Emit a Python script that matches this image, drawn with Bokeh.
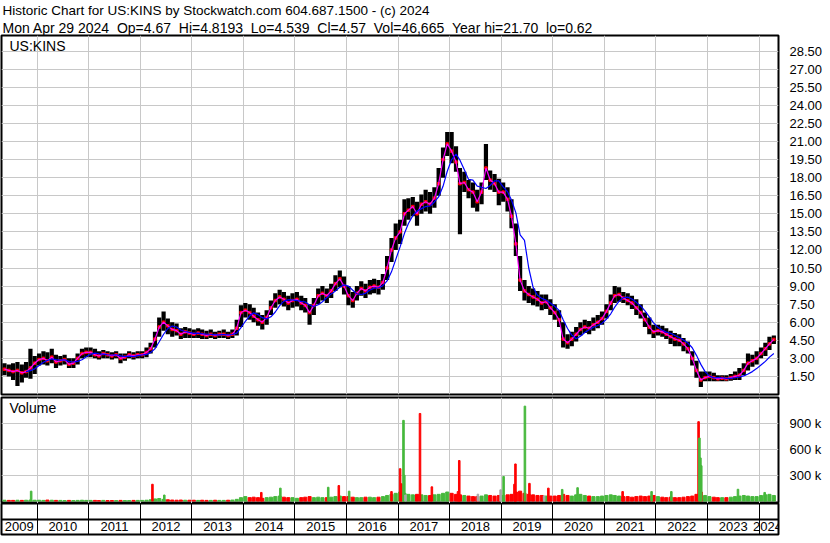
import numpy as np
import pandas as pd
from bokeh.plotting import figure
from bokeh.layouts import column
from bokeh.models import Range1d, FixedTicker, NumeralTickFormatter, Title, Label
from bokeh.embed import file_html
from bokeh.resources import INLINE

# ---------------- data (monthly) ----------------
first_month = "2009-05-01"
last_month = "2024-04-01"
last_day = "2024-04-29"
chart_start = "2009-04-24"
chart_end = "2024-05-18"

close = [2.1, 2.0, 1.9, 2.0, 1.8, 1.9, 2.2, 2.6,
         2.9, 3.0, 2.8, 3.1, 2.7, 2.8, 2.9, 2.5, 2.6, 3.0, 3.4, 3.5,
         3.5, 3.3, 3.2, 3.4, 3.3, 3.2, 3.3, 3.0, 3.1, 3.3, 3.2, 3.3,
         3.3, 3.5, 3.8, 4.6, 5.6, 6.0, 5.7, 5.4, 5.3, 5.0, 5.2, 5.1,
         5.0, 5.1, 5.0, 4.9, 5.0, 4.9, 5.0, 5.0, 4.9, 5.0, 5.5, 6.8,
         7.0, 6.8, 6.5, 6.2, 6.0, 6.4, 7.2, 7.8, 8.1, 7.9, 7.6, 7.8,
         7.9, 7.6, 7.4, 6.8, 7.4, 8.2, 8.4, 8.2, 8.6, 9.2, 9.6, 9.0,
         8.2, 7.8, 8.4, 8.8, 8.6, 8.9, 9.0, 8.9, 9.3, 10.5, 12.0, 13.0,
         13.5, 15.0, 15.3, 15.6, 15.0, 15.8, 16.0, 15.8, 16.3, 17.5, 19.5, 20.8,
         20.2, 19.3, 17.5, 17.6, 17.0, 16.8, 16.0, 16.8, 18.8, 17.8, 17.5, 16.8,
         16.8, 16.2, 14.8, 12.5, 9.5, 8.6, 8.3, 8.1, 7.9, 7.6, 7.7, 7.2,
         6.8, 6.2, 4.6, 4.3, 4.6, 5.0, 5.4, 5.6, 5.5, 5.8, 6.0, 6.3,
         6.9, 7.6, 8.2, 8.3, 8.0, 7.8, 7.6, 7.2, 6.8, 6.2, 5.6, 5.2,
         5.3, 5.2, 5.0, 4.8, 4.6, 4.5, 4.2, 3.8, 3.0, 2.0, 1.2, 1.4,
         1.5, 1.4, 1.3, 1.35, 1.3, 1.4, 1.5, 1.6, 2.0, 2.6, 2.8, 3.0,
         3.4, 3.8, 4.2, 4.57]

high = [2.6, 2.5, 2.6, 2.7, 2.5, 2.7, 3.8, 3.2,
        3.4, 3.6, 3.5, 3.8, 3.3, 3.2, 3.3, 3.0, 3.0, 3.4, 3.8, 3.9,
        3.9, 3.8, 3.6, 3.7, 3.6, 3.5, 3.6, 3.4, 3.4, 3.6, 3.5, 3.6,
        3.6, 3.9, 4.3, 5.2, 6.4, 6.9, 6.3, 6.0, 5.9, 5.5, 5.6, 5.5,
        5.4, 5.5, 5.4, 5.3, 5.4, 5.2, 5.3, 5.4, 5.2, 5.4, 6.2, 7.4,
        7.6, 7.5, 7.2, 6.8, 6.6, 7.0, 7.8, 8.4, 8.7, 8.5, 8.2, 8.4,
        8.5, 8.2, 8.0, 7.5, 8.0, 8.8, 9.0, 8.8, 9.2, 9.9, 10.3, 9.8,
        9.0, 8.5, 9.0, 9.4, 9.2, 9.5, 9.6, 9.5, 10.0, 11.5, 13.0, 14.2,
        14.5, 16.2, 16.3, 16.4, 16.0, 16.6, 17.0, 16.8, 17.2, 18.8, 20.5, 21.8,
        21.8, 20.6, 18.8, 18.5, 17.8, 17.6, 17.0, 17.6, 20.8, 18.6, 18.3, 17.9,
        17.6, 17.2, 16.2, 14.2, 11.5, 9.5, 9.0, 8.8, 8.6, 8.3, 8.3, 7.9,
        7.5, 7.0, 6.0, 5.0, 5.2, 5.6, 6.0, 6.2, 6.1, 6.4, 6.6, 6.9,
        7.5, 8.3, 9.0, 8.9, 8.5, 8.4, 8.2, 7.9, 7.5, 6.8, 6.4, 5.8,
        5.8, 5.7, 5.5, 5.3, 5.1, 5.0, 4.7, 4.4, 3.6, 2.8, 1.9, 1.9,
        1.9, 1.8, 1.6, 1.6, 1.6, 1.7, 1.9, 2.2, 2.6, 3.4, 3.3, 3.6,
        3.9, 4.3, 4.8, 4.9]

low = [1.6, 1.5, 1.2, 0.7, 1.0, 1.4, 1.3, 1.7,
       2.4, 2.5, 2.4, 2.6, 2.2, 2.4, 2.5, 2.2, 2.2, 2.5, 3.0, 3.1,
       3.1, 3.0, 2.9, 3.0, 3.0, 2.9, 3.0, 2.6, 2.8, 3.0, 2.9, 3.0,
       3.0, 3.1, 3.4, 3.9, 4.8, 5.3, 5.0, 4.8, 4.9, 4.6, 4.7, 4.7,
       4.7, 4.7, 4.6, 4.6, 4.7, 4.6, 4.7, 4.7, 4.6, 4.7, 4.9, 5.6,
       6.4, 6.2, 6.0, 5.7, 5.4, 5.8, 6.6, 7.2, 7.5, 7.3, 7.0, 7.2,
       7.3, 7.0, 6.8, 5.8, 6.6, 7.5, 7.8, 7.6, 8.0, 8.6, 8.9, 8.3,
       7.4, 7.2, 7.8, 8.2, 8.0, 8.3, 8.4, 8.3, 8.7, 9.5, 11.0, 12.0,
       12.5, 14.0, 14.5, 14.8, 14.0, 15.0, 15.2, 15.0, 15.5, 16.5, 18.0, 19.8,
       19.2, 18.5, 13.3, 16.8, 16.3, 15.5, 15.2, 15.8, 17.8, 17.0, 16.8, 15.7,
       16.0, 15.2, 13.8, 11.5, 8.6, 7.8, 7.6, 7.4, 7.3, 7.0, 7.1, 6.6,
       6.2, 5.6, 3.9, 3.8, 4.0, 4.4, 4.9, 5.1, 5.0, 5.3, 5.5, 5.8,
       6.3, 7.0, 7.6, 7.7, 7.6, 7.4, 7.1, 6.6, 6.3, 5.6, 5.0, 4.7,
       4.9, 4.8, 4.6, 4.2, 4.0, 4.0, 3.6, 3.4, 2.4, 1.4, 0.62, 1.1,
       1.1, 1.1, 1.1, 1.1, 1.1, 1.15, 1.2, 1.2, 1.6, 2.0, 2.3, 2.5,
       3.0, 3.2, 3.7, 4.2]

ma_slow = [np.nan, np.nan, np.nan, np.nan, np.nan, 1.9, 1.98, 2.13,
           2.4, 2.68, 2.83, 2.95, 2.9, 2.85, 2.88, 2.73, 2.7, 2.75, 2.88, 3.13,
           3.35, 3.43, 3.38, 3.35, 3.3, 3.28, 3.3, 3.2, 3.15, 3.18, 3.15, 3.23,
           3.28, 3.33, 3.48, 3.8, 4.38, 5.0, 5.48, 5.68, 5.6, 5.35, 5.23, 5.15,
           5.08, 5.1, 5.05, 5.0, 5.0, 4.95, 4.95, 4.98, 4.95, 4.98, 5.1, 5.55,
           6.08, 6.53, 6.78, 6.63, 6.38, 6.28, 6.45, 6.85, 7.38, 7.75, 7.85, 7.85,
           7.8, 7.73, 7.68, 7.43, 7.3, 7.45, 7.7, 8.05, 8.35, 8.6, 8.9, 9.1,
           9.0, 8.65, 8.35, 8.3, 8.4, 8.68, 8.83, 8.85, 9.03, 9.43, 10.18, 11.2,
           12.25, 13.38, 14.2, 14.85, 15.23, 15.43, 15.6, 15.65, 15.98, 16.4, 17.28, 18.53,
           19.5, 19.95, 19.45, 18.65, 17.85, 17.8, 17.3, 17.2, 17.1, 17.35, 17.73, 17.73,
           17.23, 16.83, 16.15, 15.08, 13.25, 12.8, 10.5, 8.9, 8.23, 7.98, 7.83, 7.6,
           7.33, 6.98, 6.2, 5.48, 4.93, 4.63, 4.83, 5.15, 5.38, 5.58, 5.73, 5.9,
           6.25, 6.7, 7.25, 7.75, 8.03, 8.08, 7.93, 7.65, 7.35, 6.95, 6.45, 5.95,
           5.58, 5.33, 5.18, 5.08, 4.9, 4.73, 4.53, 4.28, 3.88, 3.25, 2.5, 1.9,
           1.53, 1.38, 1.4, 1.39, 1.34, 1.34, 1.39, 1.45, 1.55, 1.7, 1.9, 2.15,
           2.45, 2.75, 3.1, 3.4]

volume_k = [10, 8, 8, 10, 8, 10, 12, 10,
            10, 8, 12, 10, 8, 8, 6, 8, 6, 8, 10, 8,
            8, 8, 6, 8, 6, 6, 6, 8, 6, 6, 8, 8,
            8, 10, 15, 25, 30, 20, 15, 12, 10, 12, 10, 10,
            10, 8, 10, 8, 8, 10, 8, 8, 10, 12, 20, 40,
            52, 40, 45, 40, 32, 40, 45, 52, 58, 45, 40, 40,
            32, 40, 45, 52, 40, 45, 40, 40, 45, 52, 58, 52,
            52, 45, 40, 40, 45, 45, 40, 45, 52, 65, 78, 90,
            105, 90, 78, 72, 78, 72, 65, 65, 72, 78, 90, 105,
            90, 78, 72, 65, 58, 52, 52, 58, 72, 65, 58, 65,
            65, 72, 78, 105, 115, 90, 78, 72, 65, 65, 58, 58,
            58, 65, 78, 65, 58, 72, 78, 65, 58, 52, 52, 58,
            65, 72, 65, 58, 52, 52, 45, 52, 58, 52, 58, 65,
            52, 45, 40, 45, 40, 40, 45, 52, 58, 78, 105, 65,
            52, 45, 40, 40, 40, 45, 52, 58, 65, 58, 52, 52,
            65, 72, 78, 65]

spike_dates = ["2009-11-20", "2012-03-28", "2012-06-20", "2014-05-08", "2014-09-20",
               "2015-08-25", "2015-11-08", "2016-01-20", "2016-11-15", "2017-01-15",
               "2017-01-25", "2017-02-08", "2017-02-14", "2017-06-05", "2017-08-28",
               "2018-03-01", "2018-03-10", "2019-01-18", "2019-04-05", "2019-04-12",
               "2019-06-18", "2019-07-20", "2019-12-01", "2020-03-08", "2020-06-25",
               "2021-05-10", "2021-12-01", "2022-04-20", "2022-10-30", "2022-11-05",
               "2022-11-12", "2022-11-18", "2023-08-05", "2024-02-10",
               "2017-02-22", "2018-07-20", "2018-12-28", "2019-11-01"]
spike_vol_k = [115, 195, 70, 100, 150,
               160, 180, 115, 110, 375,
               200, 935, 300, 1015, 165,
               110, 470, 285, 195, 430,
               1100, 205, 150, 135, 155,
               110, 110, 110, 920, 730,
               500, 410, 137, 100,
               70, 80, 130, 60]
spike_dir = ["up", "down", "up", "down", "up",
             "up", "down", "up", "down", "down",
             "down", "up", "up", "down", "down",
             "down", "down", "up", "down", "down",
             "up", "down", "down", "up", "up",
             "down", "up", "up", "down", "up",
             "up", "up", "up", "up",
             "flat", "flat", "flat", "flat"]

price_ticks = [1.5, 3.0, 4.5, 6.0, 7.5, 9.0, 10.5, 12.0, 13.5, 15.0, 16.5, 18.0,
               19.5, 21.0, 22.5, 24.0, 25.5, 27.0, 28.5]
volume_ticks = [300, 600, 900]
volume_tick_labels = ["300 k", "600 k", "900 k"]
years = list(range(2009, 2025))

NB = "\u00a0"
header1 = "Historic Chart for US:KINS by Stockwatch.com 604.687.1500 - (c) 2024"
header2 = (f"Mon Apr 29 2024 {NB}Op=4.67 {NB}Hi=4.8193 {NB}Lo=4.539 {NB}Cl=4.57 {NB}Vol=46,665 "
           f"{NB}Year hi=21.70 {NB}lo=0.62")
symbol = "US:KINS"

# ---------------- derived ----------------
months = pd.date_range(first_month, last_month, freq="MS") + pd.Timedelta(days=14)
x0 = pd.Timestamp(chart_start)
x1 = pd.Timestamp(chart_end)
xlast = pd.Timestamp(last_day)
year_starts = [pd.Timestamp(f"{y}-01-01") for y in years[1:]]
label_x = []
for y in years:
    a = max(x0, pd.Timestamp(f"{y}-01-01"))
    b_ = min(xlast, pd.Timestamp(f"{y + 1}-01-01"))
    label_x.append(a + (b_ - a) / 2)

up_col = "#46B83C"
dn_col = "#FF0000"
flat_col = "#A8A8A8"
dir_col = {"up": up_col, "down": dn_col, "flat": flat_col}
vol_colors = [up_col] + [up_col if close[i] >= close[i - 1] else dn_col for i in range(1, len(close))]
spike_colors = [dir_col[d] for d in spike_dir]

FONT = "Liberation Sans"
GRID = "#C8C8C8"
FW = 777
RB = 44
DAY_MS = 86400000

xr = Range1d(start=x0, end=x1)


def base_fig(fh, yr, yaxis):
    f = figure(frame_width=FW, frame_height=fh, x_range=xr, y_range=yr,
               x_axis_type="datetime", x_axis_location=None,
               y_axis_location="right" if yaxis else None,
               output_backend="svg", toolbar_location=None, title=None,
               min_border_left=1, min_border_right=RB,
               min_border_top=0, min_border_bottom=0)
    f.outline_line_color = "black"
    f.outline_line_width = 2
    f.xgrid.ticker = FixedTicker(ticks=[t.value // 10**6 for t in year_starts])
    f.xgrid.grid_line_color = GRID
    f.background_fill_color = "white"
    f.border_fill_color = "white"
    if yaxis:
        ax = f.yaxis[0]
        ax.axis_line_color = None
        ax.major_tick_line_color = None
        ax.minor_tick_line_color = None
        ax.major_label_standoff = 5
        ax.major_label_text_font = FONT
        ax.major_label_text_font_size = "13px"
        ax.major_label_text_color = "black"
        f.ygrid.grid_line_color = GRID
    return f


# price panel
p = base_fig(359, Range1d(0, 29.8), True)
p.min_border_bottom = 2
p.yaxis.ticker = FixedTicker(ticks=price_ticks)
p.yaxis.formatter = NumeralTickFormatter(format="0.00")
p.add_layout(Title(text=header2, align="left", offset=1, standoff=0,
                   text_font=FONT, text_font_size="14px", text_font_style="normal",
                   text_color="black"), "above")
p.add_layout(Title(text=header1, align="left", offset=1, standoff=0,
                   text_font=FONT, text_font_size="13.5px", text_font_style="normal",
                   text_color="black"), "above")
p.segment(x0=months, y0=low, x1=months, y1=high, line_color="black", line_width=4.2)
p.scatter(months, close, marker="square", size=2.5, color="#FF0000")
p.line(months, close, line_color="#FF00FF", line_width=1.2)
p.line(months, ma_slow, line_color="#0000FF", line_width=1.2)
p.add_layout(Label(x=x0, y=29.8, x_offset=8, y_offset=-2, text=symbol,
                   text_baseline="top", text_font=FONT, text_font_size="14px",
                   text_color="black"))

# volume panel
v = base_fig(106, Range1d(-28, 1200), True)
v.min_border_top = 1
v.yaxis.ticker = FixedTicker(ticks=volume_ticks)
v.yaxis.major_label_overrides = dict(zip(volume_ticks, volume_tick_labels))
v.vbar(x=months, top=volume_k, width=22 * DAY_MS, color=vol_colors)
v.vbar(x=pd.to_datetime(spike_dates), top=spike_vol_k, width=11 * DAY_MS, color=spike_colors)
v.add_layout(Label(x=x0, y=1200, x_offset=8, y_offset=-2, text="Volume",
                   text_baseline="top", text_font=FONT, text_font_size="14px",
                   text_color="black"))

# year rows
b = base_fig(31, Range1d(0, 2), False)
b.min_border_bottom = 3
b.xgrid.grid_line_color = "black"
b.ygrid.ticker = FixedTicker(ticks=[1])
b.ygrid.grid_line_color = "black"
b.ygrid.grid_line_width = 2
for yx, yy in zip(label_x, years):
    b.add_layout(Label(x=yx, y=0.5, text=str(yy), text_align="center",
                       text_baseline="middle", text_font=FONT,
                       text_font_size="13px", text_color="black"))

layout = column(p, v, b, spacing=0)
open("out.html", "w").write(file_html(layout, INLINE))
